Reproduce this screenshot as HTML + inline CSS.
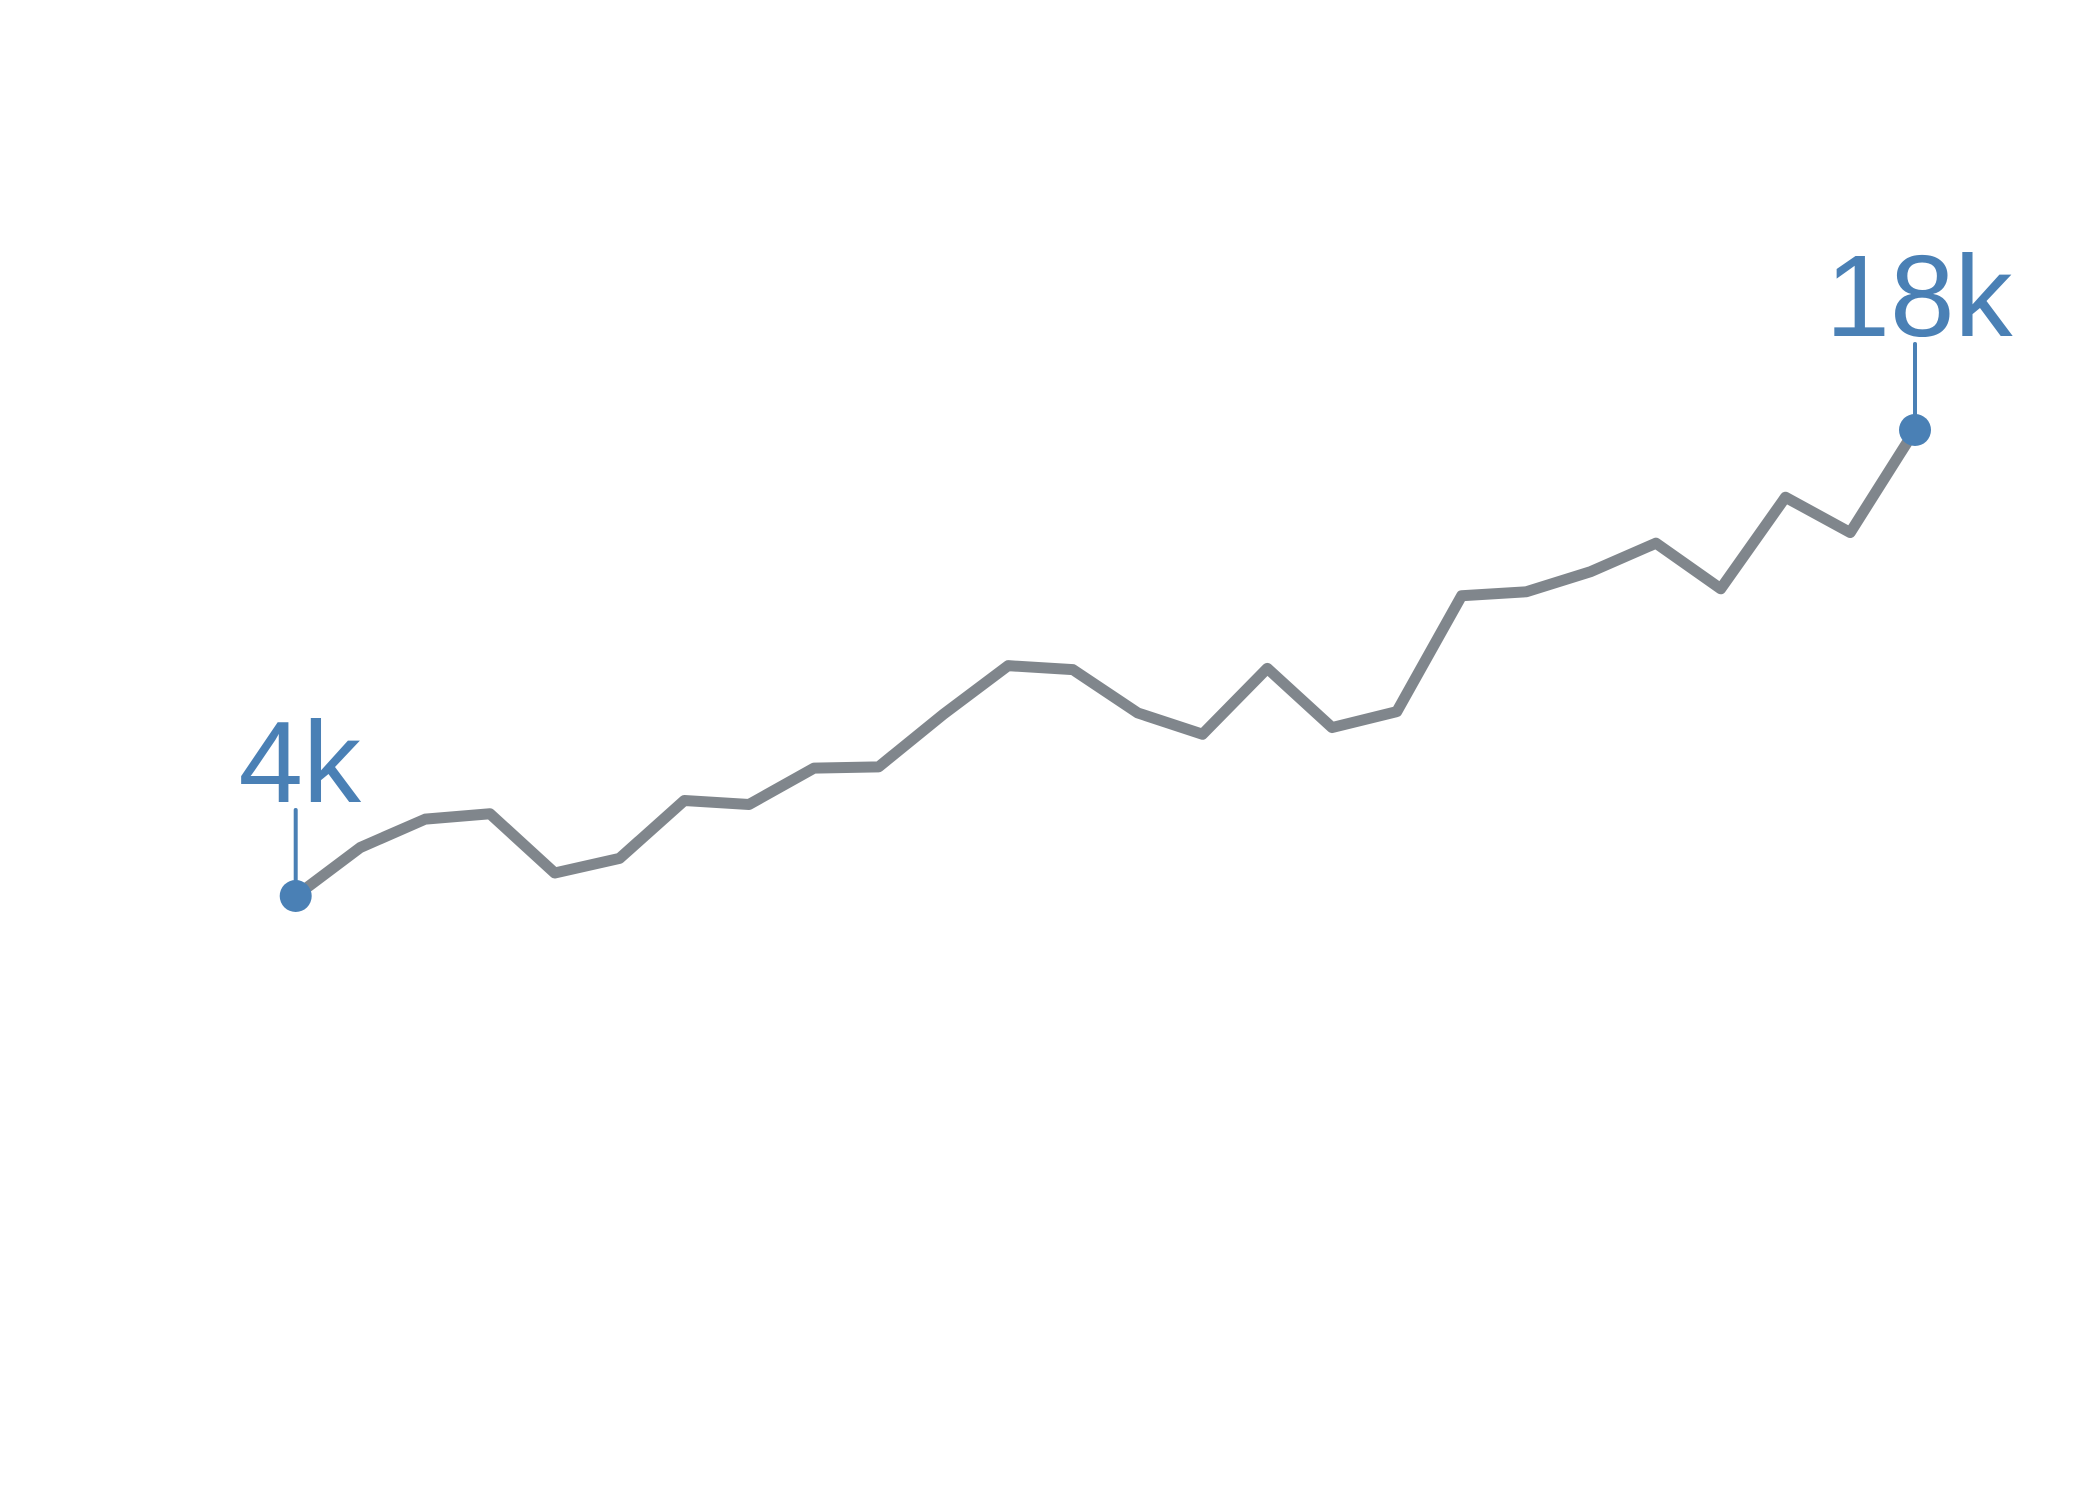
<!DOCTYPE html>
<html><head><meta charset="utf-8"><style>
html,body{margin:0;padding:0;background:#fff;}
svg{display:block;}
.lbl{font-family:"Liberation Sans","Arial","Helvetica",sans-serif;}
</style></head><body>
<svg id="chart" width="2100" height="1500" viewBox="0 0 2100 1500" xmlns="http://www.w3.org/2000/svg">
<rect width="2100" height="1500" fill="#fff"/>
</svg>
<script>
const values = [4.0,5.46,6.31,6.47,4.69,5.13,6.87,6.75,7.84,7.88,9.46,10.92,10.80,9.50,8.86,10.84,9.06,9.54,13.02,13.14,13.75,14.60,13.23,15.98,14.92,18.0];
const endLabels = ["4k","18k"];
const NS="http://www.w3.org/2000/svg";
const svg=document.getElementById('chart');
const x0=295.7,x1=1915,yA=896,yB=430,vA=4,vB=18;
function xs(i){return x0+(x1-x0)*i/(values.length-1);}
function ys(v){return yA+(v-vA)*(yB-yA)/(vB-vA);}
const line=document.createElementNS(NS,'polyline');


line.setAttribute('points',values.map((v,i)=>xs(i)+','+ys(v)).join(' '));
line.setAttribute('fill','none');
line.setAttribute('stroke','#80868c');
line.setAttribute('stroke-width','11');
line.setAttribute('stroke-linejoin','round');
line.setAttribute('stroke-linecap','round');
svg.appendChild(line);
[0,values.length-1].forEach((idx,k)=>{
  const cx=xs(idx),cy=ys(values[idx]);
  const g=document.createElementNS(NS,'g');
  
  
  const ln=document.createElementNS(NS,'line');
  
  
  ln.setAttribute('x1',cx);ln.setAttribute('x2',cx);
  ln.setAttribute('y1',cy-86);ln.setAttribute('y2',cy-14);
  ln.setAttribute('stroke','#4a80b5');ln.setAttribute('stroke-width','4');ln.setAttribute('stroke-linecap','round');
  g.appendChild(ln);
  const c=document.createElementNS(NS,'circle');
  
  
  c.setAttribute('cx',cx);c.setAttribute('cy',cy);c.setAttribute('r','16');c.setAttribute('fill','#4a80b5');
  g.appendChild(c);
  const t=document.createElementNS(NS,'text');
  
  
  t.setAttribute('class','lbl');
  t.setAttribute('x',cx+4);t.setAttribute('y',cy-94);
  t.setAttribute('text-anchor','middle');t.setAttribute('font-size','116');t.setAttribute('fill','#4a80b5');
  t.textContent=endLabels[k];
  g.appendChild(t);
  svg.appendChild(g);
});
</script>
</body></html>
